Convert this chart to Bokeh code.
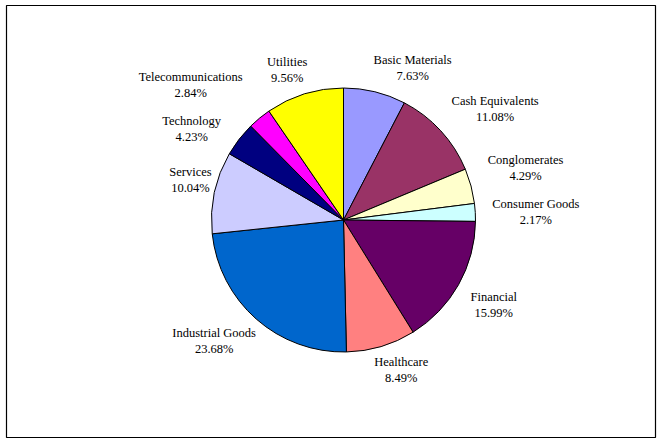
import math
from bokeh.plotting import figure
from bokeh.models import Range1d
from bokeh.core.properties import value
from bokeh.embed import file_html
from bokeh.resources import INLINE

# ---- data ----
sectors = ["Basic Materials", "Cash Equivalents", "Conglomerates", "Consumer Goods",
           "Financial", "Healthcare", "Industrial Goods", "Services", "Technology",
           "Telecommunications", "Utilities"]
shares = [7.63, 11.08, 4.29, 2.17, 15.99, 8.49, 23.68, 10.04, 4.23, 2.84, 9.56]
colors = ["#9999FF", "#993366", "#FFFFCC", "#CCFFFF", "#660066", "#FF8080",
          "#0066CC", "#CCCCFF", "#000080", "#FF00FF", "#FFFF00"]

# ---- layout ----
W, H = 663, 444
CX, CY_S = 343, 219.5      # pie centre (screen coords)
R = 132
GAP = 8
LABEL_DX = 5
LINE = 16
BLOCK_GAP = 12
FONT = "Liberation Serif"
FS = 12.5

# approximate Times advance widths (1/1000 em)
_tw = {'a': 444, 'b': 500, 'c': 444, 'd': 500, 'e': 444, 'f': 333, 'g': 500, 'h': 500,
       'i': 278, 'j': 278, 'k': 500, 'l': 278, 'm': 778, 'n': 500, 'o': 500, 'p': 500,
       'q': 500, 'r': 333, 's': 389, 't': 278, 'u': 500, 'v': 500, 'w': 722, 'x': 500,
       'y': 500, 'z': 444, ' ': 250, '.': 250, '%': 833, 'B': 667, 'C': 667, 'M': 889,
       'E': 611, 'G': 722, 'F': 556, 'H': 722, 'I': 333, 'S': 556, 'T': 611, 'U': 722}


def text_w(s):
    return sum(_tw.get(ch, 500) for ch in s) * FS / 1000.0


total = sum(shares)
starts, ends = [], []
cum = 0.0
for v in shares:
    starts.append(math.pi / 2 - 2 * math.pi * cum / total)
    cum += v
    ends.append(math.pi / 2 - 2 * math.pi * cum / total)

p = figure(width=W, height=H, output_backend="svg", toolbar_location=None,
           x_axis_type=None, y_axis_type=None, min_border=0,
           x_range=Range1d(0, W), y_range=Range1d(0, H))
p.grid.visible = False
p.outline_line_color = None
p.background_fill_color = "white"
p.border_fill_color = "white"

# chart area border
p.quad(left=[6], right=[655], top=[H - 5], bottom=[H - 437], fill_color=None,
       line_color="black", line_width=1.2)

p.wedge(x=CX, y=H - CY_S, radius=R, start_angle=starts, end_angle=ends,
        direction="clock", fill_color=colors, line_color="black", line_width=1)

# labels positioned from slice mid-angles (outside end)
boxes = []
cum = 0.0
for name, v in zip(sectors, shares):
    mid = 2 * math.pi * (cum + v / 2) / total
    cum += v
    s, c = math.sin(mid), math.cos(mid)
    ax = CX + (R + GAP) * s
    ay = CY_S - (R + GAP) * c
    pct = f"{v:.2f}%"
    w = max(text_w(name), text_w(pct))
    h = 2 * LINE
    t = 0.3 if c >= 0 else 0.6
    fx = max(-1.0, min(1.0, s / t))
    fy = max(-1.0, min(1.0, c / 0.3))
    boxes.append([ax + fx * w / 2 + LABEL_DX, ay - fy * h / 2, w, h, name, pct, s])

# collision avoidance: push overlapping labels apart vertically and outward
for _ in range(10):
    for i in range(len(boxes)):
        for j in range(i + 1, len(boxes)):
            a, b = boxes[i], boxes[j]
            if abs(a[0] - b[0]) < (a[2] + b[2]) / 2 - 1:
                need = (a[3] + b[3]) / 2 + BLOCK_GAP
                d = b[1] - a[1]
                if abs(d) < need:
                    push = (need - abs(d)) / 2
                    sgn = 1 if d >= 0 else -1
                    a[1] -= sgn * push
                    b[1] += sgn * push
                    a[0] += math.copysign(1.5 * push, a[6])
                    b[0] += math.copysign(1.5 * push, b[6])

name_x = [b[0] for b in boxes]
name_y = [H - (b[1] - LINE / 2) for b in boxes]
pct_y = [H - (b[1] + LINE / 2) for b in boxes]
pct_txt = [b[5] for b in boxes]

p.text(x=name_x, y=name_y, text=sectors, text_font=value(FONT), text_font_size=f"{FS}px",
       text_align="center", text_baseline="middle", text_color="black")
p.text(x=name_x, y=pct_y, text=pct_txt, text_font=value(FONT), text_font_size=f"{FS}px",
       text_align="center", text_baseline="middle", text_color="black")

open("out.html", "w").write(file_html(p, INLINE))
